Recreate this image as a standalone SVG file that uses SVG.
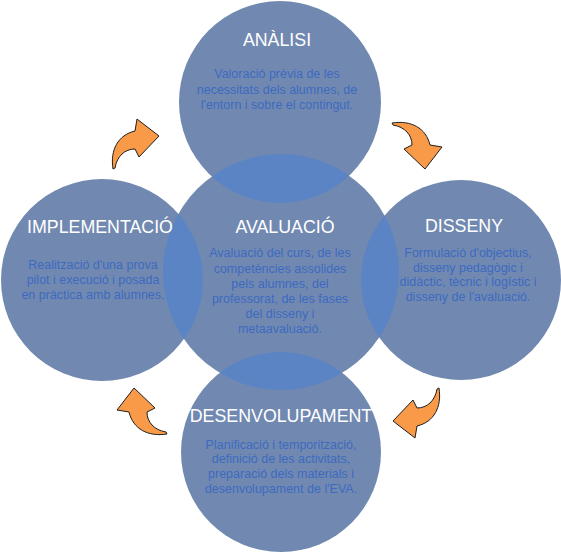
<svg xmlns="http://www.w3.org/2000/svg" width="561" height="552" viewBox="0 0 561 552">
<style>
.c{fill:#7189b1}
.l{fill:#5b84c4}
.t{font-family:"Liberation Sans",Arial,sans-serif;font-size:17.8px;fill:#ffffff;text-anchor:middle}
.b{font-family:"Liberation Sans",Arial,sans-serif;font-size:12.5px;fill:#3d69c0;text-anchor:middle}
.a{fill:#f89a48;stroke:#1e1e1e;stroke-width:1;stroke-linejoin:round}
</style>
<defs>
<clipPath id="cc"><circle cx="281" cy="272" r="118"/></clipPath>
<path id="arr" d="M-22,25 C-25,6 -17,-9 0,-13 L2,-25 L24,-8 L4,13 L0,5 C-10,5 -18,12 -20,24 Z"/>
</defs>
<g id="circles">
<circle id="c-analisi" class="c" cx="280" cy="102" r="101"/>
<circle id="c-impl" class="c" cx="102" cy="280" r="101"/>
<circle id="c-disseny" class="c" cx="461" cy="280" r="100"/>
<circle id="c-desenv" class="c" cx="281" cy="452" r="100"/>
<circle id="c-aval" class="c" cx="281" cy="272" r="118"/>
<g clip-path="url(#cc)">
<circle class="l" cx="280" cy="102" r="101"/>
<circle class="l" cx="102" cy="280" r="101"/>
<circle class="l" cx="461" cy="280" r="100"/>
<circle class="l" cx="281" cy="452" r="100"/>
</g>
</g>
<g id="connectors">
<use href="#arr" class="a" transform="translate(135,144)"/>
<use href="#arr" class="a" transform="translate(417,145) rotate(90)"/>
<use href="#arr" class="a" transform="translate(417,413) rotate(180)"/>
<use href="#arr" class="a" transform="translate(142,412) rotate(270)"/>
</g>
<g id="analisi">
<text class="t" x="277" y="46">ANÀLISI</text>
<text class="b" x="277" y="78">Valoració prèvia de les</text>
<text class="b" x="277" y="93.5">necessitats dels alumnes, de</text>
<text class="b" x="277" y="109">l'entorn i sobre el contingut.</text>
</g>
<g id="implementacio">
<text class="t" x="100" y="233">IMPLEMENTACIÓ</text>
<text class="b" x="93" y="269">Realització d'una prova</text>
<text class="b" x="93" y="284">pilot i execució i posada</text>
<text class="b" x="93" y="299">en pràctica amb alumnes.</text>
</g>
<g id="disseny">
<text class="t" x="464" y="232">DISSENY</text>
<text class="b" x="468" y="257">Formulació d'objectius,</text>
<text class="b" x="468" y="272">disseny pedagògic i</text>
<text class="b" x="468" y="286">didàctic, tècnic i logístic i</text>
<text class="b" x="468" y="301">disseny de l'avaluació.</text>
</g>
<g id="avaluacio">
<text class="t" x="285" y="233">AVALUACIÓ</text>
<text class="b" x="280" y="257">Avaluació del curs, de les</text>
<text class="b" x="280" y="273">competències assolides</text>
<text class="b" x="280" y="288">pels alumnes, del</text>
<text class="b" x="280" y="303">professorat, de les fases</text>
<text class="b" x="280" y="318">del disseny i</text>
<text class="b" x="280" y="333">metaavaluació.</text>
</g>
<g id="desenvolupament">
<text class="t" x="281" y="422">DESENVOLUPAMENT</text>
<text class="b" x="281" y="449">Planificació i temporització,</text>
<text class="b" x="281" y="463">definició de les activitats,</text>
<text class="b" x="281" y="478">preparació dels materials i</text>
<text class="b" x="281" y="493">desenvolupament de l'EVA.</text>
</g>
</svg>
